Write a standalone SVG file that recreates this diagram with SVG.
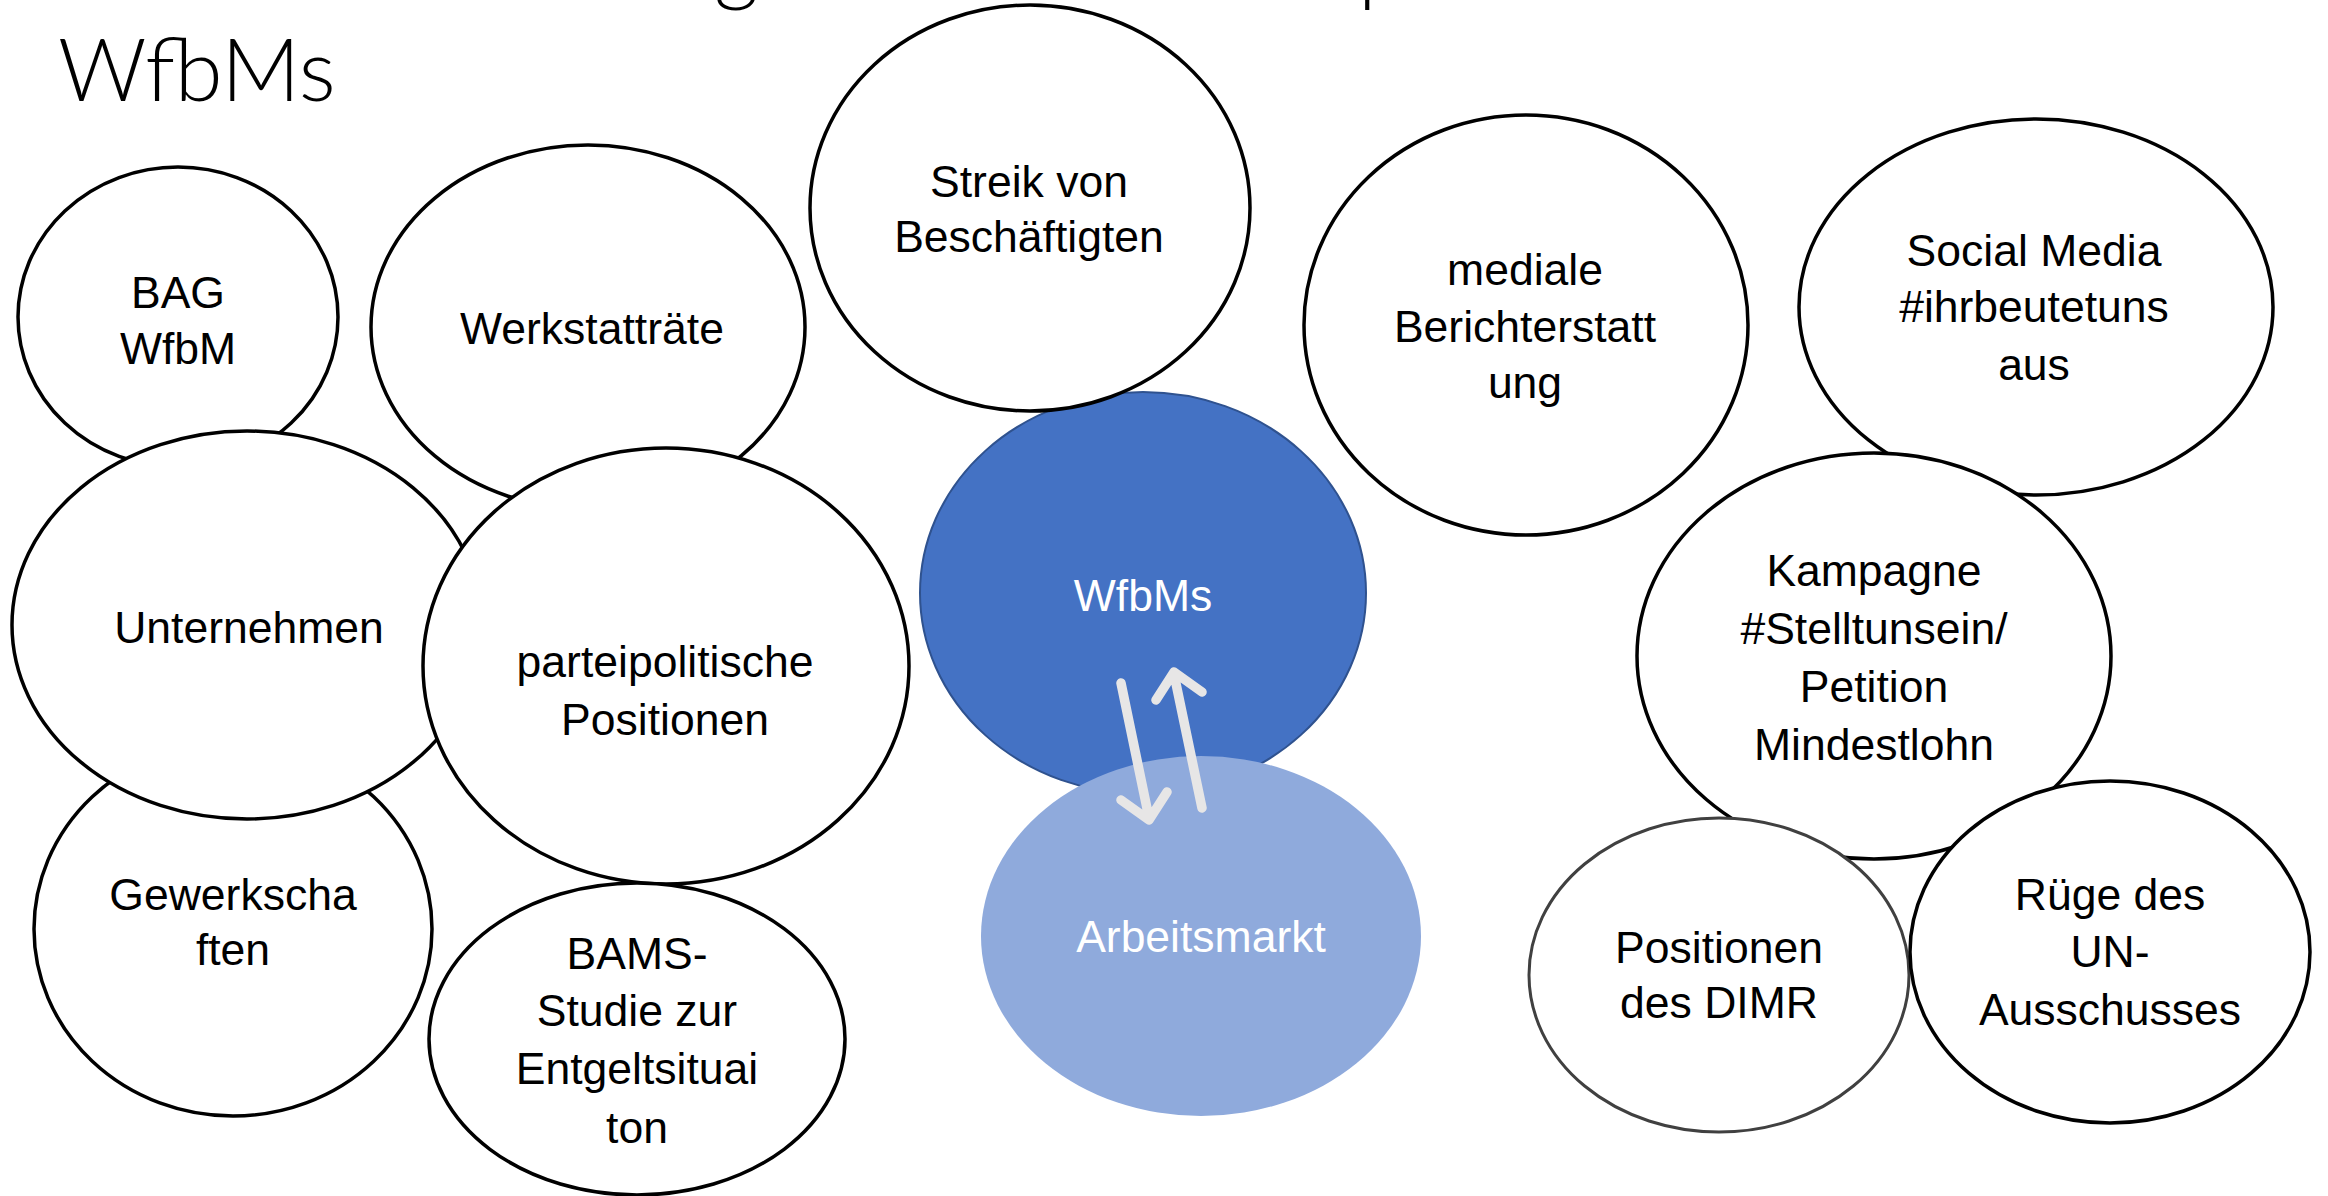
<svg xmlns="http://www.w3.org/2000/svg" width="2328" height="1196" viewBox="0 0 2328 1196">
  <defs>
    <style>
      .bub { fill: #FFFFFF; stroke: #000000; stroke-width: 3.5; }
      .lbl { font-family: "Liberation Sans", Arial, sans-serif; font-size: 44.5px; fill: #000000; text-anchor: middle; }
      .wlbl { font-family: "Liberation Sans", Arial, sans-serif; font-size: 44.5px; fill: #FFFFFF; text-anchor: middle; }
      .title { font-family: "Lato", "Liberation Sans", sans-serif; font-weight: 300; font-size: 87px; fill: #000000; }
      .arr { fill: none; stroke: #E7E6E6; stroke-width: 9.5; stroke-linecap: round; stroke-linejoin: round; }
    </style>
  </defs>
  <rect width="2328" height="1196" fill="#FFFFFF"/>

  <g id="title">
    <text class="title" x="714" y="-5">g</text>
    <text class="title" x="1358" y="-5">p</text>
    <text class="title" x="58" y="101">WfbMs</text>
  </g>

  <g id="node-bag">
    <ellipse class="bub" cx="178" cy="317" rx="160" ry="150"/>
    <text class="lbl" x="178" y="308">BAG</text>
    <text class="lbl" x="178" y="364">WfbM</text>
  </g>
  <g id="node-werkstattraete">
    <ellipse class="bub" cx="588" cy="327" rx="217" ry="182"/>
    <text class="lbl" x="592" y="344">Werkstatträte</text>
  </g>
  <g id="node-gewerkschaften">
    <ellipse class="bub" cx="233" cy="929" rx="199" ry="187"/>
    <text class="lbl" x="233" y="910">Gewerkscha</text>
    <text class="lbl" x="233" y="965">ften</text>
  </g>
  <g id="node-unternehmen">
    <ellipse class="bub" cx="247" cy="625" rx="235" ry="194"/>
    <text class="lbl" x="249" y="643">Unternehmen</text>
  </g>
  <g id="node-parteipolitische">
    <ellipse class="bub" cx="666" cy="666" rx="243" ry="218"/>
    <text class="lbl" x="665" y="677">parteipolitische</text>
    <text class="lbl" x="665" y="735">Positionen</text>
  </g>
  <g id="node-bams">
    <ellipse class="bub" cx="637" cy="1039" rx="208" ry="156"/>
    <text class="lbl" x="637" y="969">BAMS-</text>
    <text class="lbl" x="637" y="1026">Studie zur</text>
    <text class="lbl" x="637" y="1084">Entgeltsituai</text>
    <text class="lbl" x="637" y="1143">ton</text>
  </g>
  <g id="node-wfbms">
    <ellipse cx="1143" cy="593" rx="223" ry="201" fill="#4472C4" stroke="#2F528F" stroke-width="2"/>
    <text class="wlbl" x="1143" y="611">WfbMs</text>
  </g>
  <g id="node-streik">
    <ellipse class="bub" cx="1030" cy="208" rx="220" ry="203"/>
    <text class="lbl" x="1029" y="197">Streik von</text>
    <text class="lbl" x="1029" y="252">Beschäftigten</text>
  </g>
  <g id="node-arbeitsmarkt">
    <ellipse cx="1201" cy="936" rx="220" ry="180" fill="#8FAADC"/>
    <text class="wlbl" x="1201" y="952">Arbeitsmarkt</text>
  </g>
  <g id="node-mediale">
    <ellipse class="bub" cx="1526" cy="325" rx="222" ry="210"/>
    <text class="lbl" x="1525" y="285">mediale</text>
    <text class="lbl" x="1525" y="342">Berichterstatt</text>
    <text class="lbl" x="1525" y="398">ung</text>
  </g>
  <g id="node-socialmedia">
    <ellipse class="bub" cx="2036" cy="307" rx="237" ry="188"/>
    <text class="lbl" x="2034" y="266">Social Media</text>
    <text class="lbl" x="2034" y="322">#ihrbeutetuns</text>
    <text class="lbl" x="2034" y="380">aus</text>
  </g>
  <g id="node-kampagne">
    <ellipse class="bub" cx="1874" cy="656" rx="237" ry="203"/>
    <text class="lbl" x="1874" y="586">Kampagne</text>
    <text class="lbl" x="1874" y="644">#Stelltunsein/</text>
    <text class="lbl" x="1874" y="702">Petition</text>
    <text class="lbl" x="1874" y="760">Mindestlohn</text>
  </g>
  <g id="node-dimr">
    <ellipse cx="1719" cy="975" rx="190" ry="157" fill="#FFFFFF" stroke="#404040" stroke-width="3"/>
    <text class="lbl" x="1719" y="963">Positionen</text>
    <text class="lbl" x="1719" y="1018">des DIMR</text>
  </g>
  <g id="node-ruege">
    <ellipse class="bub" cx="2110" cy="952" rx="200" ry="171"/>
    <text class="lbl" x="2110" y="910">Rüge des</text>
    <text class="lbl" x="2110" y="967">UN-</text>
    <text class="lbl" x="2110" y="1025">Ausschusses</text>
  </g>

  <g id="connectors">
    <path class="arr" d="M1121,683 L1149,818 M1121,800 L1149,820 L1167,792"/>
    <path class="arr" d="M1202,808 L1174,674 M1156,700 L1174,672 L1202,692"/>
  </g>
</svg>
